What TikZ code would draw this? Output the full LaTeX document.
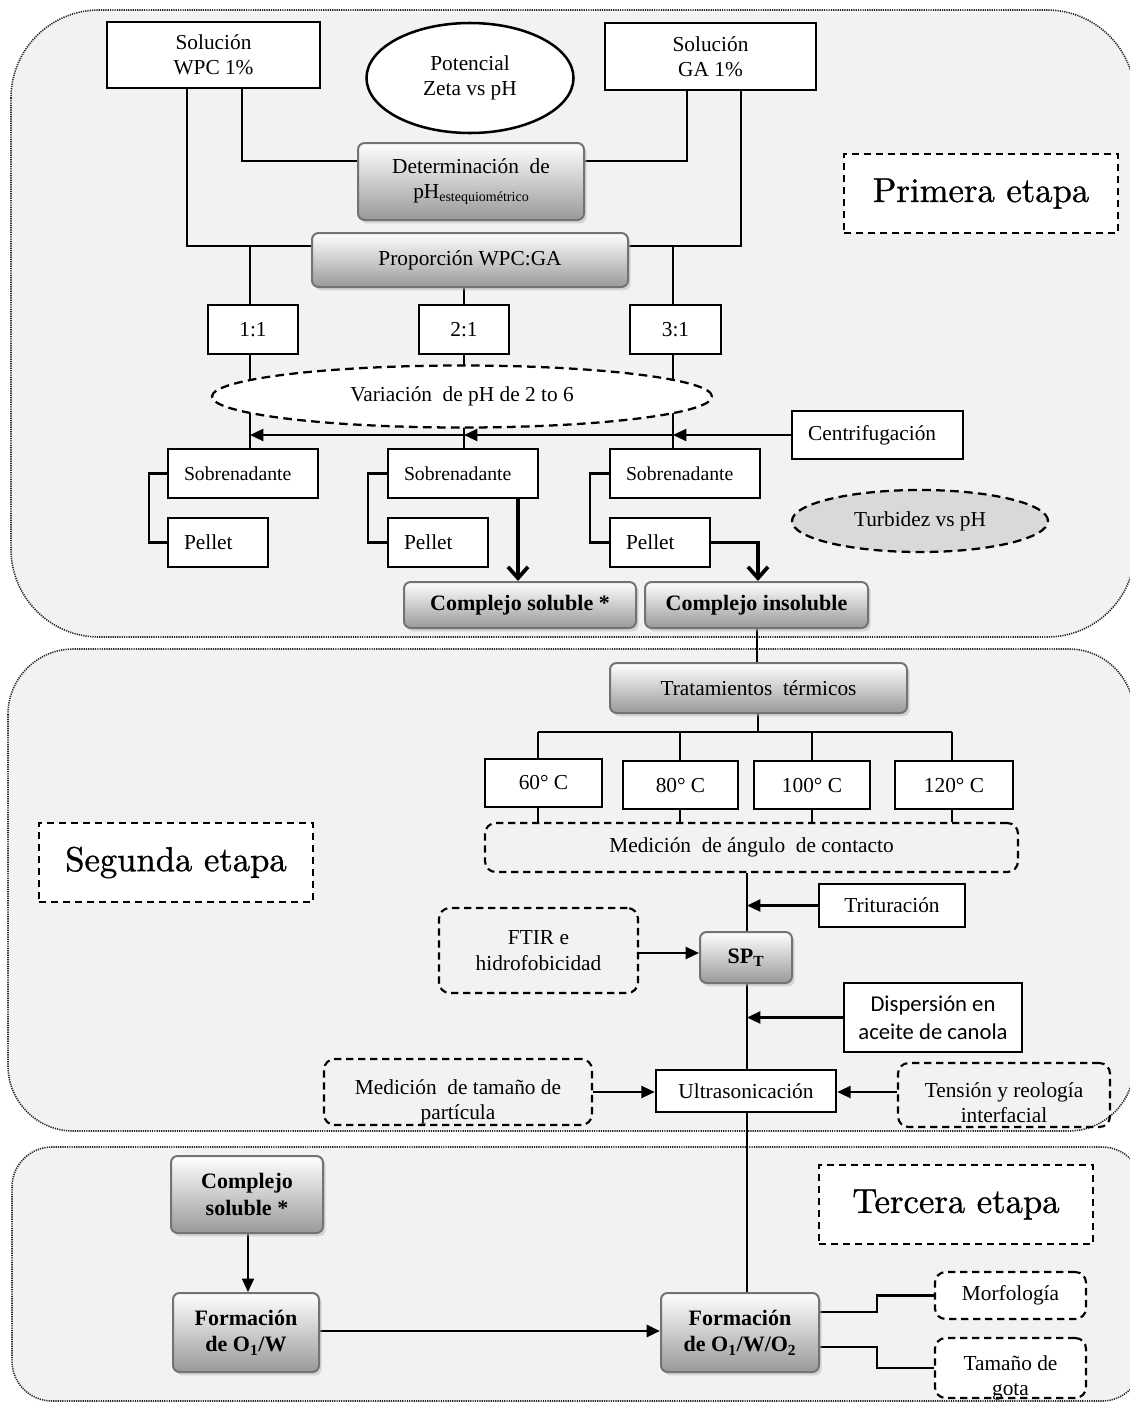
\documentclass[tikz,border=0pt]{standalone}
\usepackage{fontspec}
\setmainfont{Liberation Serif}
\newfontfamily\calibfont{Carlito}
\newfontfamily\stagefont{lmroman10-regular.otf}[FakeBold=0.9]
\usetikzlibrary{arrows.meta,shapes.geometric,shadows}
\pgfdeclarelayer{panels}
\pgfdeclarelayer{wires}
\pgfsetlayers{panels,wires,main}
\definecolor{panelgray}{RGB}{242,242,242}
\definecolor{turbgray}{RGB}{217,217,217}

% two-line text set a little below the middle of its box
\newcommand\lowtext[2]{\raisebox{#1}[0pt][0pt]{\begin{tabular}{@{}c@{}}#2\end{tabular}}}

\tikzset{
  wh/.style 2 args={minimum width=#1*0.75pt, minimum height=#2*0.75pt},
  basefont/.style={font=\fontsize{16}{19}\selectfont},
  boldtext/.style={font=\bfseries\fontsize{16.5}{20}\selectfont},
  panel/.style={fill=panelgray, draw=black!85, line width=1.2pt, dash pattern=on 0.9pt off 0.8pt},
  plainbox/.style={draw, line width=1.9pt, fill=white, inner sep=0pt, align=center, basefont},
  leftbox/.style={draw, line width=1.9pt, fill=white, inner xsep=12pt, inner ysep=0pt, align=left, basefont},
  sobbox/.style={leftbox, text width=88.5pt, font=\fontsize{14.8}{18}\selectfont},
  gradbox/.style={draw=black!55, line width=1.5pt, rounded corners=5pt, top color=white, bottom color=black!40,
    drop shadow={shadow xshift=2pt, shadow yshift=-2.5pt, fill=black!28}, inner sep=0pt, align=center, basefont},
  dashround/.style={draw, dash pattern=on 5.5pt off 3.5pt, line width=1.6pt, rounded corners=8pt, inner sep=0pt, align=center, basefont},
  dashoval/.style={ellipse, draw, dash pattern=on 6.5pt off 4pt, line width=1.7pt, inner sep=0pt, basefont},
  stagebox/.style={draw, dash pattern=on 5.5pt off 3.5pt, line width=1.6pt, fill=white, inner sep=0pt,
    font=\stagefont\fontsize{26}{30}\selectfont},
  wire/.style={line width=1.6pt},
  thickwire/.style={line width=2.8pt},
  tri/.style={-{Triangle[length=10pt,width=9pt]}},
  barb/.style={-{Straight Barb[length=8.5pt,width=15pt]}}
}

\begin{document}
\begin{tikzpicture}[x=0.75pt,y=-0.75pt]
\useasboundingbox (0,0) rectangle (1130,1403);

% ---------- stage panels ----------
\begin{pgfonlayer}{panels}
  \fill[white] (0,0) rectangle (1130,1403);
  \draw[panel, rounded corners=66pt] (11,10) rectangle (1135,637);
  \draw[panel, rounded corners=49pt] (8,649) rectangle (1134,1131);
  \draw[panel, rounded corners=30pt] (12,1147) rectangle (1142,1401);
\end{pgfonlayer}

% ---------- first stage ----------
\node[plainbox, wh={213}{66}] (wpc) at (213.5,55) {Solución\\WPC 1\%};
\node[ellipse, draw, line width=1.9pt, fill=white, wh={207}{110}, inner sep=0pt, align=center, basefont] (zeta) at (470,78) {Potencial\\Zeta vs pH};
\node[plainbox, wh={211}{67}] (ga) at (710.5,56.5) {Solución\\GA 1\%};
\node[gradbox, wh={226}{77}] (det) at (471,181.5) {Determinación\ \ de\\pH{\fontsize{10.5}{10}\selectfont\raisebox{-0.5ex}{estequiométrico}}};
\node[gradbox, wh={316}{54}] (prop) at (470,260) {Proporción WPC:GA};
\node[plainbox, wh={90}{49}] (r11) at (253,329.5) {1:1};
\node[plainbox, wh={90}{49}] (r21) at (464,329.5) {2:1};
\node[plainbox, wh={91}{49}] (r31) at (675.5,329.5) {3:1};
\node[dashoval, fill=white, wh={500}{62}] (var) at (462,396.5) {Variación\ \ de pH de 2 to 6};
\node[leftbox, text width=104pt, wh={171}{48}] (cent) at (877.5,435) {Centrifugación};
\node[sobbox, wh={150}{49}] (sob1) at (243,473.5) {Sobrenadante};
\node[leftbox, text width=51pt, wh={100}{49}] (pel1) at (218,542.5) {Pellet};
\node[sobbox, wh={150}{49}] (sob2) at (463,473.5) {Sobrenadante};
\node[leftbox, text width=51pt, wh={100}{49}] (pel2) at (438,542.5) {Pellet};
\node[sobbox, wh={150}{49}] (sob3) at (685,473.5) {Sobrenadante};
\node[leftbox, text width=51pt, wh={100}{49}] (pel3) at (660,542.5) {Pellet};
\node[dashoval, fill=turbgray, wh={256}{62}] (turb) at (920,521) {Turbidez vs pH};
\node[gradbox, boldtext, wh={232}{46}] (csol) at (520,605) {Complejo soluble *};
\node[gradbox, boldtext, wh={223}{46}] (cins) at (756.5,605) {Complejo insoluble};
\node[stagebox, wh={274}{79}] (prim) at (981,193.5) {Primera etapa};

% ---------- second stage ----------
\node[gradbox, wh={297}{50}] (trat) at (758.5,688) {Tratamientos\ \ térmicos};
\node[plainbox, wh={117}{48}] (t60) at (543.5,783) {60° C};
\node[plainbox, wh={115}{48}] (t80) at (680.5,785) {80° C};
\node[plainbox, wh={116}{48}] (t100) at (812,785) {100° C};
\node[plainbox, wh={118}{48}] (t120) at (954,785) {120° C};
\node[dashround, wh={533}{49}] (ang) at (751.5,847.5) {Medición\ \ de ángulo\ \ de contacto};
\node[plainbox, wh={146}{43}] (trit) at (892,905.5) {Trituración};
\node[dashround, wh={199}{85}] (ftir) at (538.5,950.5) {FTIR e\\hidrofobicidad};
\node[gradbox, boldtext, wh={92}{51}] (spt) at (746,957.5) {SP\textsubscript{T}};
\node[plainbox, wh={178}{69}, font=\calibfont\fontsize{17}{21}\selectfont] (disp) at (933,1017.5) {Dispersión en\\aceite de canola};
\node[plainbox, wh={180}{42}] (ultra) at (746,1091) {Ultrasonicación};
\node[dashround, wh={268}{66}] (medt) at (458,1092) {\lowtext{-12pt}{Medición\ \ de tamaño de\\partícula}};
\node[dashround, wh={212}{64}] (tens) at (1004,1095) {\lowtext{-12pt}{Tensión y reología\\interfacial}};
\node[stagebox, wh={274}{79}] (seg) at (176,862.5) {Segunda etapa};

% ---------- third stage ----------
\node[gradbox, boldtext, wh={152}{77}] (csol2) at (247,1194.5) {Complejo\\soluble *};
\node[gradbox, boldtext, wh={146}{79}] (fow) at (246,1332.5) {Formación\\de O\textsubscript{1}/W};
\node[gradbox, boldtext, wh={158}{79}] (fowo) at (740,1332.5) {Formación\\de O\textsubscript{1}/W/O\textsubscript{2}};
\node[dashround, fill=white, wh={151}{47}] (morf) at (1010.5,1295.5) {Morfología};
\node[dashround, fill=white, wh={151}{60}] (tam) at (1010.5,1368) {\lowtext{-12pt}{Tamaño de\\gota}};
\node[stagebox, wh={274}{79}] (terc) at (956,1204.5) {Tercera etapa};

% ---------- connectors ----------
\begin{pgfonlayer}{wires}
  \coordinate (j1) at (187,246);
  \coordinate (j2) at (242,161);
  \coordinate (j3) at (687,161);
  \coordinate (j4) at (741,246);
  \coordinate (c11) at (250,246);
  \coordinate (c31) at (673,246);
  \coordinate (c21) at (464,0);
  \draw[wire] (wpc.south -| j1) -- (j1) -- (prop.west |- j1);
  \draw[wire] (wpc.south -| j2) -- (j2) -- (det.west |- j2);
  \draw[wire] (ga.south -| j3) -- (j3) -- (det.east |- j3);
  \draw[wire] (ga.south -| j4) -- (j4) -- (prop.east |- j4);
  \draw[wire] (c11) -- (r11.north -| c11);
  \draw[wire] (c31) -- (r31.north -| c31);
  \draw[wire] (prop.south -| c21) -- (r21.north -| c21);
  \draw[wire] (r11.south -| c11) -- (sob1.north -| c11);
  \draw[wire] (r21.south -| c21) -- (sob2.north -| c21);
  \draw[wire] (r31.south -| c31) -- (sob3.north -| c31);
  % centrifugation feeds the three branches
  \draw[wire, tri] (cent.west) -- (cent.west -| c31);
  \draw[wire, tri] (cent.west -| c31) -- (cent.west -| c21);
  \draw[wire, tri] (cent.west -| c21) -- (cent.west -| c11);
  % supernatant / pellet brackets
  \draw[wire] (sob1.west) -- ++(-18,0) |- (pel1.west);
  \draw[wire] (sob2.west) -- ++(-19,0) |- (pel2.west);
  \draw[wire] (sob3.west) -- ++(-19,0) |- (pel3.west);
  % complexes
  \coordinate (k1) at (518,0);
  \coordinate (k2) at (758,0);
  \draw[thickwire, barb] (sob2.south -| k1) -- (csol.north -| k1);
  \draw[thickwire, barb] (pel3.east) -| (cins.north -| k2);
  % heat treatments
  \coordinate (k3) at (757,0);
  \coordinate (hc) at (758,732);
  \coordinate (hl) at (538,732);
  \coordinate (hr) at (952,732);
  \draw[wire] (cins.south -| k3) -- (trat.north -| k3);
  \draw[wire] (trat.south -| hc) -- (hc);
  \draw[wire] (hl) -- (hr);
  \foreach \n/\xx in {t60/538, t80/680, t100/812, t120/952} {
    \coordinate (tx) at (\xx,732);
    \draw[wire] (tx) -- (\n.north -| tx);
    \draw[wire] (\n.south -| tx) -- (ang.north -| tx);
  }
  % main line of the second stage
  \coordinate (mx) at (747,0);
  \coordinate (fy) at (0,953);
  \coordinate (uy) at (0,1092);
  \draw[wire] (ang.south -| mx) -- (spt.north -| mx);
  \draw[wire, tri] (trit.west) -- (trit.west -| mx);
  \draw[wire, tri] (ftir.east |- fy) -- (spt.west |- fy);
  \draw[wire] (spt.south -| mx) -- (ultra.north -| mx);
  \draw[wire, tri] (disp.west) -- (disp.west -| mx);
  \draw[wire, tri] (medt.east |- uy) -- (ultra.west |- uy);
  \draw[wire, tri] (tens.west |- uy) -- (ultra.east |- uy);
  \draw[wire] (ultra.south -| mx) -- (fowo.north -| mx);
  % third stage
  \coordinate (sx) at (248,0);
  \coordinate (oy) at (0,1331);
  \coordinate (bx) at (877,1312);
  \coordinate (bx2) at (877,1347);
  \draw[line width=1.2pt, tri] (csol2.south -| sx) -- (fow.north -| sx);
  \draw[line width=2.2pt, tri] (fow.east |- oy) -- (fowo.west |- oy);
  \draw[wire] (fowo.east |- bx) -- (bx) |- (morf.west);
  \draw[wire] (fowo.east |- bx2) -- (bx2) |- (tam.west);
\end{pgfonlayer}
\end{tikzpicture}
\end{document}
